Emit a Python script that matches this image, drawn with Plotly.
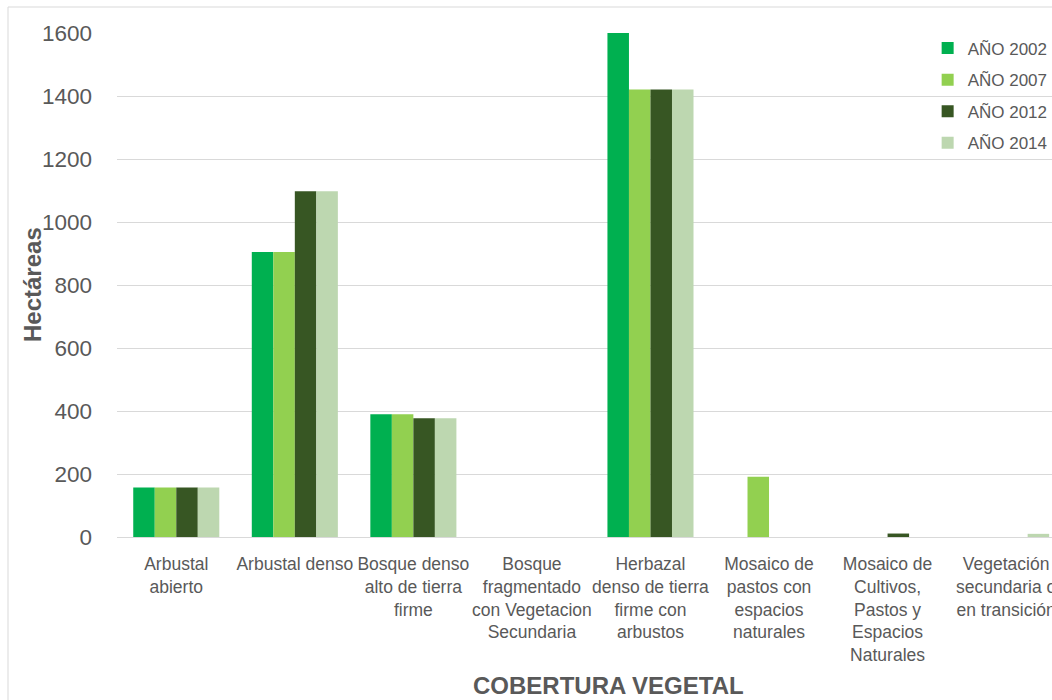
import plotly.graph_objects as go

categorias = [
    "Arbustal abierto",
    "Arbustal denso",
    "Bosque denso alto de tierra firme",
    "Bosque fragmentado con Vegetacion Secundaria",
    "Herbazal denso de tierra firme con arbustos",
    "Mosaico de pastos con espacios naturales",
    "Mosaico de Cultivos, Pastos y Espacios Naturales",
    "Vegetación secundaria o en transición",
]
etiquetas = [
    "Arbustal<br>abierto",
    "Arbustal denso",
    "Bosque denso<br>alto de tierra<br>firme",
    "Bosque<br>fragmentado<br>con Vegetacion<br>Secundaria",
    "Herbazal<br>denso de tierra<br>firme con<br>arbustos",
    "Mosaico de<br>pastos con<br>espacios<br>naturales",
    "Mosaico de<br>Cultivos,<br>Pastos y<br>Espacios<br>Naturales",
    "Vegetación<br>secundaria o<br>en transición",
]
series_nombres = ["AÑO 2002", "AÑO 2007", "AÑO 2012", "AÑO 2014"]
anio_2002 = [157, 905, 390, 0, 1600, 0, 0, 0]
anio_2007 = [157, 905, 390, 0, 1421, 191, 0, 0]
anio_2012 = [157, 1098, 377, 0, 1421, 0, 11, 0]
anio_2014 = [157, 1098, 377, 0, 1421, 0, 0, 10]
y_ticks = [0, 200, 400, 600, 800, 1000, 1200, 1400, 1600]

colores = ["#00B050", "#92D050", "#375623", "#BDD7B0"]
FONT = "Liberation Sans, Arial, sans-serif"
GRIS = "#595959"

fig = go.Figure()
for nombre, vals, col in zip(series_nombres, [anio_2002, anio_2007, anio_2012, anio_2014], colores):
    fig.add_trace(go.Bar(
        x=categorias, y=vals, name=nombre, marker_color=col,
        marker_line_width=0, legendgroup=nombre,
    ))

fig.update_layout(
    width=1052, height=700,
    margin=dict(l=117, r=0, t=33, b=163, autoexpand=False),
    paper_bgcolor="white", plot_bgcolor="white",
    barmode="group", bargap=0.274, bargroupgap=0,
    font=dict(family=FONT, color=GRIS),
    showlegend=True,
    legend=dict(
        x=0.867, y=1.005, xanchor="left", yanchor="top",
        font=dict(size=17, color=GRIS, family=FONT),
        bgcolor="rgba(0,0,0,0)", tracegroupgap=6.5, itemwidth=30,
    ),
    xaxis=dict(
        type="category", range=[-0.5, 7.387], automargin=False,
        tickmode="array", tickvals=categorias, ticktext=etiquetas,
        tickfont=dict(size=17.5, color=GRIS, family=FONT),
        showgrid=False, showline=True, linecolor="#D9D9D9", linewidth=1,
        ticks="", ticklabelstandoff=11, tickangle=0,
    ),
    yaxis=dict(
        range=[0, 1600], tickvals=y_ticks, automargin=False,
        tickfont=dict(size=22.5, color=GRIS, family=FONT),
        showgrid=True, gridcolor="#D9D9D9", gridwidth=1,
        zeroline=False, showline=False, ticks="", ticklabelstandoff=24,
    ),
    shapes=[
        dict(type="line", xref="paper", yref="paper",
             x0=(8 - 117) / 935, x1=1.2, y0=(700 - 163 - 7) / 504, y1=(700 - 163 - 7) / 504,
             line=dict(color="#D9D9D9", width=1)),
        dict(type="line", xref="paper", yref="paper",
             x0=(8 - 117) / 935, x1=(8 - 117) / 935, y0=(700 - 163 - 7) / 504, y1=-0.5,
             line=dict(color="#D9D9D9", width=1)),
    ],
    annotations=[
        dict(text="<b>Hectáreas</b>", xref="paper", yref="paper",
             x=(32 - 117) / 935, y=(537 - 285) / 504, textangle=-90,
             showarrow=False, font=dict(size=24, color=GRIS, family=FONT),
             xanchor="center", yanchor="middle"),
        dict(text="<b>COBERTURA VEGETAL</b>", xref="paper", yref="paper",
             x=(608 - 117) / 935, y=(537 - 685) / 504,
             showarrow=False, font=dict(size=24, color=GRIS, family=FONT),
             xanchor="center", yanchor="middle"),
    ],
)

fig.write_html("out.html")
